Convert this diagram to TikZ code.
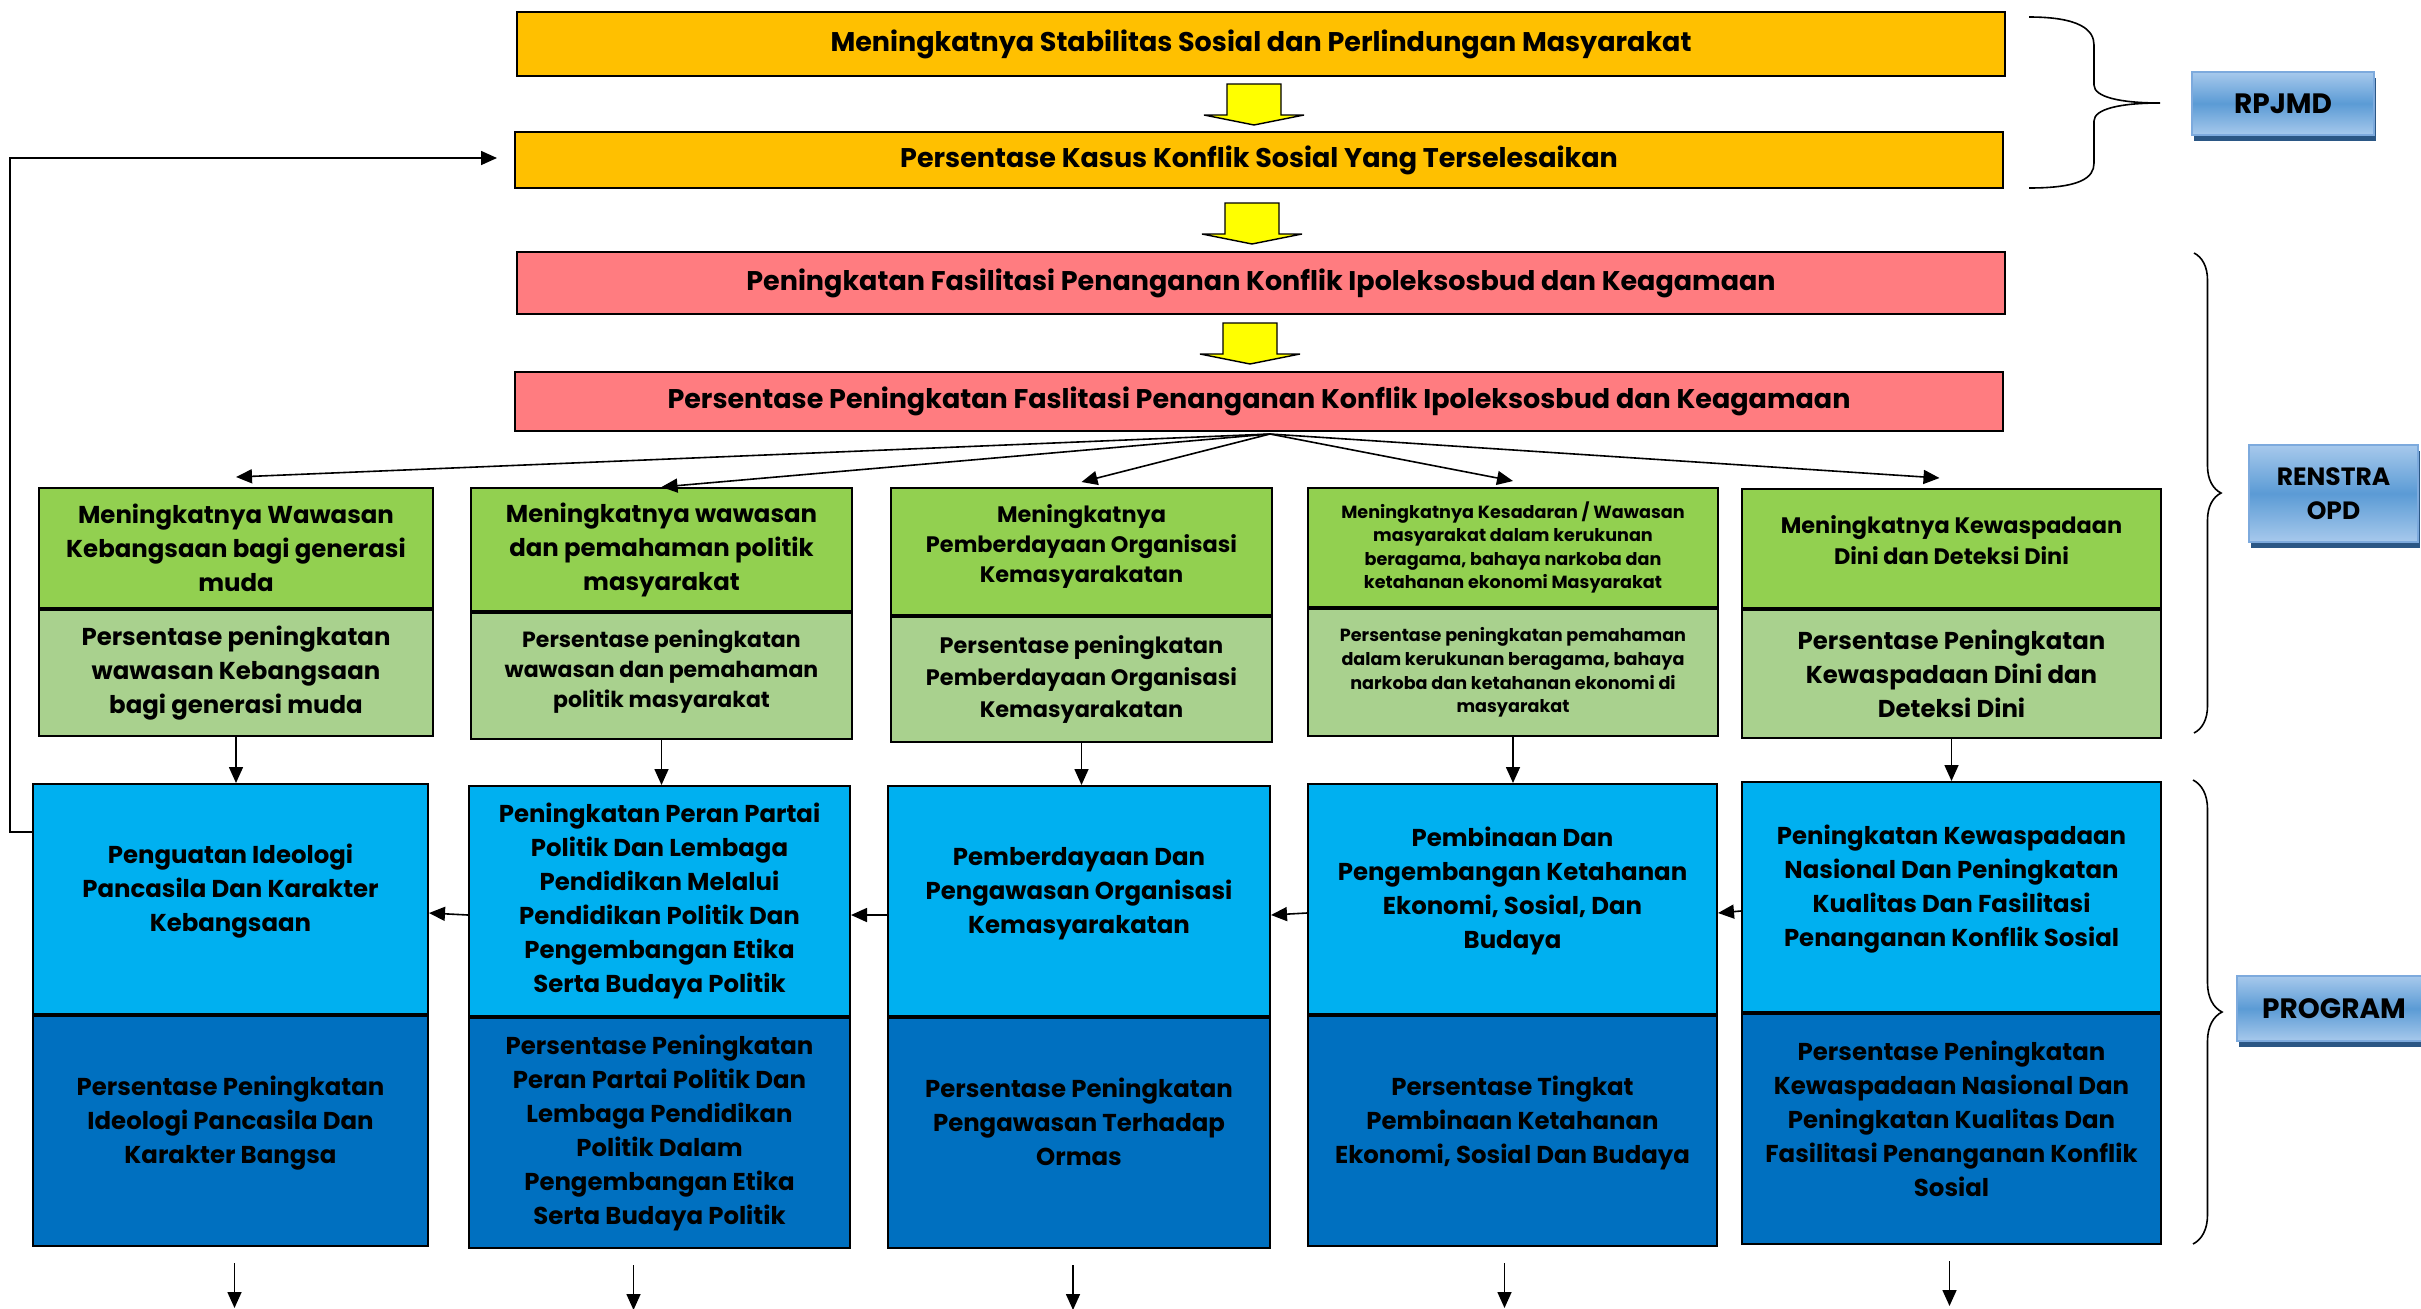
\documentclass[tikz,border=0pt]{standalone}
\usepackage{fontspec}
\setmainfont{Poppins}
\usetikzlibrary{arrows.meta,positioning,calc,shadows,decorations.pathreplacing}
\definecolor{oranye}{HTML}{FFC000}
\definecolor{merahmuda}{HTML}{FF7C80}
\definecolor{hijau}{HTML}{92D050}
\definecolor{hijaumuda}{HTML}{A9D18E}
\definecolor{biru}{HTML}{00B0F0}
\definecolor{birutua}{HTML}{0070C0}
\definecolor{kuning}{HTML}{FFFF00}
\definecolor{labelterang}{HTML}{A7C9EC}
\definecolor{labeltengah}{HTML}{5B9BD5}
\definecolor{bayang}{HTML}{2B5785}
\definecolor{garislabel}{HTML}{7DAADD}
\newcommand{\hurufbesar}{\fontsize{13.5}{16}\selectfont}
\newcommand{\hurufsedang}{\fontsize{12.2}{17}\selectfont}
\newcommand{\hurufkecil}{\fontsize{8.8}{11.8}\selectfont}
\newcommand{\panahkuning}[3]{\draw[blok] ($(#1.south)+(#2,#3)$) -- ++(27,0) -- ++(0,31) -- ++(23,0) -- ++(-50,10) -- ++(-50,-10) -- ++(23,0) -- ++(0,-31) -- cycle;}
\begin{document}
\begin{tikzpicture}[x=0.5pt,y=-0.5pt]
\tikzstyle{every node}+=[inner sep=0pt]
\tikzstyle{kotak}=[draw, line width=1pt, rectangle, align=center]
\tikzstyle{lebar}=[kotak, minimum width=744pt, font=\bfseries\hurufbesar]
\tikzstyle{hijauatas}=[kotak, fill=hijau, font=\bfseries\hurufsedang]
\tikzstyle{hijaubawah}=[kotak, fill=hijaumuda, font=\bfseries\hurufsedang]
\tikzstyle{biruatas}=[kotak, fill=biru, minimum height=115pt, font=\bfseries\hurufsedang]
\tikzstyle{birubawah}=[kotak, fill=birutua, minimum height=115pt, font=\bfseries\hurufsedang]
\tikzstyle{label}=[draw=garislabel, line width=1pt, top color=labelterang, bottom color=labelterang, middle color=labeltengah, align=center, font=\bfseries\fontsize{14}{17}\selectfont, general shadow={fill=bayang, shadow xshift=1.2pt, shadow yshift=-3pt}]
\tikzstyle{panah}=[line width=0.8pt, -{Triangle[length=8pt,width=7pt]}]
\tikzstyle{blok}=[fill=kuning, draw, line width=0.7pt, line join=miter]
\tikzstyle{kurawal}=[line width=0.8pt]
\useasboundingbox (0,0) rectangle (2421,1308);
\clip (0,0) rectangle (2421,1308);

\node[lebar, fill=oranye, minimum height=32pt] (s1) at (1261,44) {Meningkatnya Stabilitas Sosial dan Perlindungan Masyarakat};
\node[lebar, fill=oranye, minimum height=28pt] (s2) at (1259,160) {Persentase Kasus Konflik Sosial Yang Terselesaikan};
\node[lebar, fill=merahmuda, minimum height=31pt] (p1) at (1261,283) {Peningkatan Fasilitasi Penanganan Konflik Ipoleksosbud dan Keagamaan};
\node[lebar, fill=merahmuda, minimum height=29.5pt] (p2) at (1259,401.5) {Persentase Peningkatan Faslitasi Penanganan Konflik Ipoleksosbud dan Keagamaan};

\panahkuning{s1}{-7}{7}
\panahkuning{s2}{-7}{14}
\panahkuning{p1}{-11}{8}

\node[hijauatas, minimum width=197pt, minimum height=60pt] (g1a) at (236,548) {Meningkatnya Wawasan\\Kebangsaan bagi generasi\\muda};
\node[hijaubawah, minimum width=197pt, minimum height=63pt, below=0pt of g1a] (g1b) {Persentase peningkatan\\wawasan Kebangsaan\\bagi generasi muda};
\node[hijauatas, minimum width=190.5pt, minimum height=61.5pt] (g2a) at (661.5,549.5) {Meningkatnya wawasan\\dan pemahaman politik\\masyarakat};
\node[hijaubawah, minimum width=190.5pt, minimum height=63pt, below=0pt of g2a, font=\bfseries\fontsize{11}{15}\selectfont] (g2b) {Persentase peningkatan\\wawasan dan pemahaman\\politik masyarakat\\[-8pt]};
\node[hijauatas, minimum width=190.5pt, minimum height=63.5pt, font=\bfseries\fontsize{11.2}{15}\selectfont] (g3a) at (1081.5,551.5) {Meningkatnya\\Pemberdayaan Organisasi\\Kemasyarakatan\\[-7pt]};
\node[hijaubawah, minimum width=190.5pt, minimum height=62.5pt, below=0pt of g3a, font=\bfseries\fontsize{11.2}{16}\selectfont] (g3b) {Persentase peningkatan\\Pemberdayaan Organisasi\\Kemasyarakatan};
\node[hijauatas, minimum width=205pt, minimum height=59.5pt, font=\bfseries\hurufkecil] (g4a) at (1513,547.5) {Meningkatnya Kesadaran / Wawasan\\masyarakat dalam kerukunan\\beragama, bahaya narkoba dan\\ketahanan ekonomi Masyarakat};
\node[hijaubawah, minimum width=205pt, minimum height=63.5pt, below=0pt of g4a, font=\bfseries\hurufkecil] (g4b) {Persentase peningkatan pemahaman\\dalam kerukunan beragama, bahaya\\narkoba dan ketahanan ekonomi di\\masyarakat};
\node[hijauatas, minimum width=209.5pt, minimum height=59.5pt, font=\bfseries\fontsize{11.2}{15.5}\selectfont] (g5a) at (1951.5,548.5) {Meningkatnya Kewaspadaan\\Dini dan Deteksi Dini\\[-7.5pt]};
\node[hijaubawah, minimum width=209.5pt, minimum height=64pt, below=0pt of g5a] (g5b) {Persentase Peningkatan\\Kewaspadaan Dini dan\\Deteksi Dini};

\node[biruatas, minimum width=197.5pt] (b1a) at (230.5,899) {Penguatan Ideologi\\Pancasila Dan Karakter\\Kebangsaan\\[-6pt]};
\node[birubawah, minimum width=197.5pt, below=0pt of b1a] (b1b) {Persentase Peningkatan\\Ideologi Pancasila Dan\\Karakter Bangsa\\[-6pt]};
\node[biruatas, minimum width=190.5pt] (b2a) at (659.5,901) {Peningkatan Peran Partai\\Politik Dan Lembaga\\Pendidikan Melalui\\Pendidikan Politik Dan\\Pengembangan Etika\\Serta Budaya Politik};
\node[birubawah, minimum width=190.5pt, below=0pt of b2a] (b2b) {Persentase Peningkatan\\Peran Partai Politik Dan\\Lembaga Pendidikan\\Politik Dalam\\Pengembangan Etika\\Serta Budaya Politik};
\node[biruatas, minimum width=191pt] (b3a) at (1079,901) {Pemberdayaan Dan\\Pengawasan Organisasi\\Kemasyarakatan\\[-6pt]};
\node[birubawah, minimum width=191pt, below=0pt of b3a] (b3b) {Persentase Peningkatan\\Pengawasan Terhadap\\Ormas\\[-6pt]};
\node[biruatas, minimum width=204.5pt] (b4a) at (1512.5,899) {Pembinaan Dan\\Pengembangan Ketahanan\\Ekonomi, Sosial, Dan\\Budaya\\[-6pt]};
\node[birubawah, minimum width=204.5pt, below=0pt of b4a] (b4b) {Persentase Tingkat\\Pembinaan Ketahanan\\Ekonomi, Sosial Dan Budaya\\[-6pt]};
\node[biruatas, minimum width=209.5pt] (b5a) at (1951.5,897) {Peningkatan Kewaspadaan\\Nasional Dan Peningkatan\\Kualitas Dan Fasilitasi\\Penanganan Konflik Sosial\\[-6pt]};
\node[birubawah, minimum width=209.5pt, below=0pt of b5a] (b5b) {Persentase Peningkatan\\Kewaspadaan Nasional Dan\\Peningkatan Kualitas Dan\\Fasilitasi Penanganan Konflik\\Sosial\\[-6.5pt]};

\node[label, minimum width=91pt, minimum height=31.5pt] (rpjmd) at (2283,103.5) {RPJMD};
\node[label, minimum width=84.5pt, minimum height=48.5pt, font=\bfseries\fontsize{12.5}{17}\selectfont] (renstra) at (2333.5,493.5) {RENSTRA\\OPD};
\node[label, minimum width=97pt, minimum height=32.5pt] (program) at (2334,1008.5) {PROGRAM};

\draw[kurawal] (2029,17) .. controls (2080,17) and (2094,30) .. (2094,45) -- (2094,85) .. controls (2094,97) and (2120,103) .. (2160,103) .. controls (2120,103) and (2094,109) .. (2094,121) -- (2094,163) .. controls (2094,178) and (2080,188) .. (2029,188);
\draw[kurawal, decorate, decoration={brace, amplitude=13.5pt}] (2194,253) -- (2194,733);
\draw[kurawal, decorate, decoration={brace, amplitude=14.5pt}] (2193,780) -- (2193,1244);

\coordinate (pusat) at ($(p2.south)+(11,2)$);
\draw[panah] (pusat) -- ([yshift=5pt]g1a.north);
\draw[panah] (pusat) -- (g2a.north);
\draw[panah] (pusat) -- ([yshift=2.5pt]g3a.north);
\draw[panah] (pusat) -- ([yshift=3pt]g4a.north);
\draw[panah] (pusat) -- ([xshift=-6pt,yshift=5pt]g5a.north);

\draw[panah] (g1b.south) -- (g1b.south |- b1a.north);
\draw[panah] (g2b.south) -- (g2b.south |- b2a.north);
\draw[panah] (g3b.south) -- (g3b.south |- b3a.north);
\draw[panah] (g4b.south) -- (g4b.south |- b4a.north);
\draw[panah] (g5b.south) -- (g5b.south |- b5a.north);

\draw[panah] ([yshift=-7pt]b2a.west) -- ([yshift=-7pt]b1a.east);
\draw[panah] ([yshift=-7pt]b3a.west) -- ([yshift=-7pt]b2a.east);
\draw[panah] ([yshift=-7pt]b4a.west) -- ([yshift=-7pt]b3a.east);
\draw[panah] ([yshift=-7pt]b5a.west) -- ([yshift=-7pt]b4a.east);

\draw[panah] ([yshift=33.5pt]b1a.west) -- ++(-22,0) |- ([xshift=-8.5pt,yshift=1pt]s2.west);

\draw[panah] ([xshift=2pt,yshift=-8pt]b1b.south) -- ++(0,45);
\draw[panah] ([xshift=-13pt,yshift=-8pt]b2b.south) -- ++(0,45);
\draw[panah] ([xshift=-3pt,yshift=-8pt]b3b.south) -- ++(0,45);
\draw[panah] ([xshift=-4pt,yshift=-8pt]b4b.south) -- ++(0,45);
\draw[panah] ([xshift=-1pt,yshift=-8pt]b5b.south) -- ++(0,45);
\end{tikzpicture}
\end{document}
